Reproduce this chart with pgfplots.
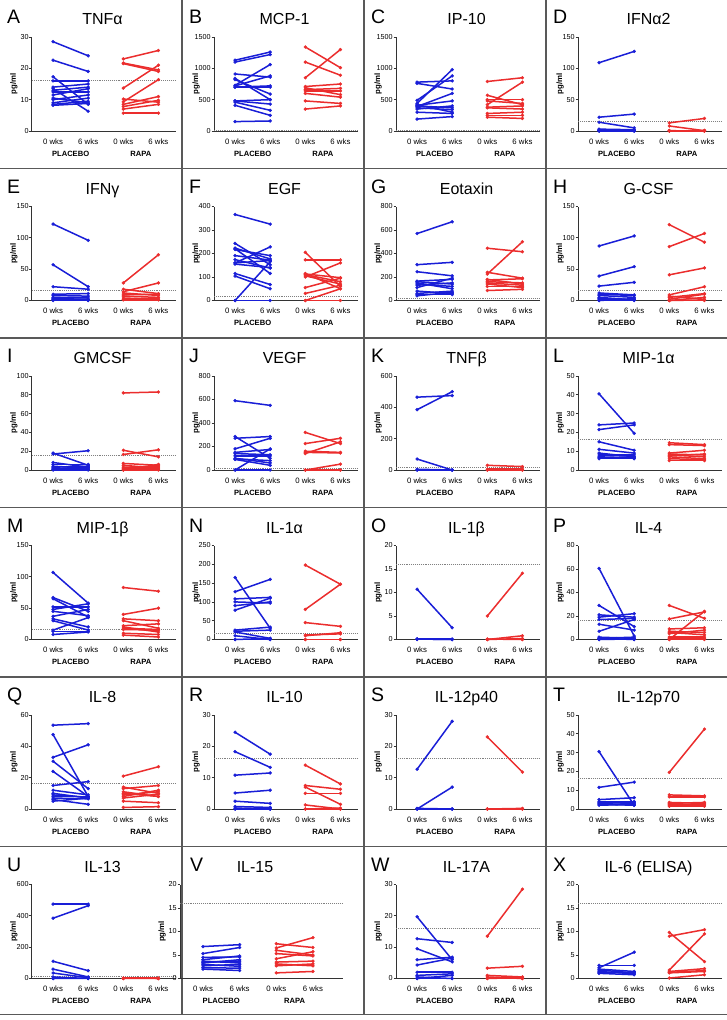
\documentclass[border=0pt]{standalone}
\usepackage{fontspec}
\setmainfont{Liberation Sans}
\usepackage{pgfplots}
\pgfplotsset{compat=1.18}
\definecolor{pblue}{RGB}{25,30,215}
\definecolor{rred}{RGB}{235,45,45}
\pgfplotsset{
  letterx/.initial=-25pt,
  titlex/.initial=0.49,
  cyto/.style={
    scale only axis, width=144pt, height=94pt,
    xmin=-0.6, xmax=3.5, ymin=0, clip=false,
    axis x line*=bottom, axis y line*=left,
    axis line style={line width=1pt, black!80},
    xtick={0,1,2,3}, xticklabels={0 wks,6 wks,0 wks,6 wks},
    xtick style={draw=none},
    ytick style={line width=0.8pt, black!80},
    major tick length=2.5pt, tick align=outside,
    x tick label style={font=\fontsize{7.8}{8}\selectfont, anchor=base, yshift=-10.5pt, inner sep=0pt},
    y tick label style={font=\fontsize{7.2}{7.5}\selectfont, inner sep=0.6pt},
    /pgf/number format/assume math mode=true,
    /pgf/number format/1000 sep={},
    scaled y ticks=false,
  },
  pl/.style={pblue, line width=1.5pt},
  ra/.style={rred, line width=1.5pt},
  plm/.style={pblue, only marks, mark=*, mark size=1.5pt},
  ram/.style={rred, only marks, mark=*, mark size=1.5pt},
}
\tikzset{hline/.style={black!50, densely dotted, line width=0.9pt}}
\newcommand\panel[9]{%
\begin{axis}[cyto, at={#1}, anchor=south west, ymax=#5, ytick distance=#6, #9]
\draw[hline] ({rel axis cs:0,0}|-{axis cs:0,16}) -- ({rel axis cs:1,0}|-{axis cs:0,16});
\addplot[pl, quiver={u=1,v=\thisrow{b}-\thisrow{a}}] table[row sep=\\, x expr=0, y=a] {#7};
\addplot[plm] table[row sep=\\, x expr=0, y=a] {#7};
\addplot[plm] table[row sep=\\, x expr=1, y=b] {#7};
\addplot[ra, quiver={u=1,v=\thisrow{b}-\thisrow{a}}] table[row sep=\\, x expr=2, y=a] {#8};
\addplot[ram] table[row sep=\\, x expr=2, y=a] {#8};
\addplot[ram] table[row sep=\\, x expr=3, y=b] {#8};
\node[font=\fontsize{19.5}{20}\selectfont, anchor=base west, inner sep=0pt] at ([shift={(\pgfkeysvalueof{/pgfplots/letterx},13.5pt)}]rel axis cs:0,1) {#3};
\node[font=\fontsize{16}{16}\selectfont, anchor=base, inner sep=0pt] at ([yshift=12.5pt]rel axis cs:\pgfkeysvalueof{/pgfplots/titlex},1) {#4};
\node[font=\bfseries\fontsize{7.8}{8}\selectfont, rotate=90, inner sep=0pt] at ([xshift=-18pt]rel axis cs:0,0.5) {pg/ml};
\node[font=\bfseries\fontsize{7.6}{8}\selectfont, anchor=base, inner sep=0pt] at ([yshift=-25pt]axis cs:0.5,0) {PLACEBO};
\node[font=\bfseries\fontsize{7.6}{8}\selectfont, anchor=base, inner sep=0pt] at ([yshift=-25pt]axis cs:2.5,0) {RAPA};
\end{axis}}
\begin{document}
\begin{tikzpicture}[x=1pt,y=1pt]
\useasboundingbox (0,0) rectangle (727,-1020);
% borders
\foreach \yy in {168.5,338,507.5,677,846.5,1014.5}{\draw[black!65, line width=1.3pt] (0,-\yy) -- (727,-\yy);}
\foreach \xx in {182,364,546}{\draw[black!65, line width=1.3pt] (\xx,0) -- (\xx,-1014.5);}
% Row 1
\panel{(32pt,-131pt)}{}{A}{TNFα}{30}{10}
{a b\\ 28.5 24\\ 22.6 19\\ 17.3 8.5\\ 16 16\\ 14 15\\ 13.5 6.3\\ 13 14\\ 12.5 12.5\\ 11.5 13.5\\ 10.5 9\\ 10 11.5\\ 9 10.5\\ 8.5 9.5\\ 8.2 8.8\\}
{a b\\ 23 25.7\\ 21.7 19.5\\ 21.5 19\\ 13.7 21\\ 10.2 9.2\\ 9.3 16.4\\ 8.5 11\\ 7.8 9.8\\ 7 8.5\\ 5.7 5.7\\}{}
\panel{(214pt,-131pt)}{}{B}{MCP-1}{1500}{500}
{a b\\ 1130 1260\\ 1100 1220\\ 910 860\\ 840 500\\ 820 590\\ 730 1060\\ 720 880\\ 700 720\\ 700 700\\ 480 430\\ 460 330\\ 410 250\\ 480 500\\ 150 160\\}
{a b\\ 1340 1010\\ 1100 890\\ 850 1300\\ 710 750\\ 690 580\\ 660 680\\ 640 640\\ 600 540\\ 480 440\\ 350 400\\}{}
\panel{(396pt,-131pt)}{}{C}{IP-10}{1500}{500}
{a b\\ 780 800\\ 760 670\\ 490 880\\ 440 980\\ 410 480\\ 390 600\\ 370 340\\ 350 400\\ 400 370\\ 300 280\\ 190 230\\ 420 300\\}
{a b\\ 790 850\\ 570 420\\ 500 500\\ 480 440\\ 420 780\\ 380 400\\ 370 350\\ 280 300\\ 250 250\\ 220 200\\}{}
\panel{(578pt,-131pt)}{}{D}{IFNα2}{150}{50}
{a b\\ 109 127\\ 22 27\\ 14 5\\ 3 2\\ 2 1\\ 1 1\\ 0.5 0.5\\ 0 0\\ 0 1\\ 1 0\\}
{a b\\ 13 20\\ 8 0.5\\ 1 1\\ 0.5 0\\ 0 0\\ 0 0.5\\ 0 0\\}{}
% Row 2
\panel{(32pt,-300.5pt)}{}{E}{IFNγ}{150}{50}
{a b\\ 122 96\\ 57 22\\ 22 18\\ 10 11\\ 8 7\\ 5 4\\ 3 2\\ 1 0.5\\ 0 0\\ 2 1\\}
{a b\\ 28 73\\ 18 11\\ 14 28\\ 12 8\\ 7 5\\ 4 2\\ 2 4\\ 1 1\\ 9 10\\}{}
\panel{(214pt,-300.5pt)}{}{F}{EGF}{400}{100}
{a b\\ 366 325\\ 243 152\\ 223 177\\ 217 191\\ 191 172\\ 174 138\\ 160 228\\ 115 68\\ 104 50\\ 0 165\\ 220 115\\ 155 140\\ 160 170\\ 0 0\\}
{a b\\ 205 60\\ 173 173\\ 113 97\\ 110 80\\ 105 70\\ 100 160\\ 55 95\\ 30 65\\ 0 50\\ 115 50\\ 0 0\\}{}
\panel{(396pt,-300.5pt)}{}{G}{Eotaxin}{800}{200}
{a b\\ 570 670\\ 305 325\\ 245 210\\ 165 180\\ 160 140\\ 150 100\\ 140 120\\ 110 190\\ 80 60\\ 60 80\\ 50 50\\ 40 70\\ 130 150\\}
{a b\\ 445 415\\ 240 190\\ 225 500\\ 175 185\\ 160 150\\ 150 130\\ 140 110\\ 120 120\\ 85 95\\ 180 140\\}{}
\panel{(578pt,-300.5pt)}{}{H}{G-CSF}{150}{50}
{a b\\ 87 103\\ 39 54\\ 23 29\\ 12 9\\ 10 8\\ 8 5\\ 5 1\\ 3 1\\ 1 1\\ 0 0\\ 0 3\\}
{a b\\ 121 93\\ 86 107\\ 41 52\\ 9 22\\ 5 11\\ 2 10\\ 0 5\\ 0 1\\ 0 0\\ 7 2\\}{}
% Row 3
\panel{(32pt,-470pt)}{}{I}{GMCSF}{100}{20}
{a b\\ 18 5\\ 17 20.5\\ 8 3\\ 6 6\\ 4 2\\ 3 4\\ 2 1\\ 1 3\\ 0 0\\ 0.5 1\\}
{a b\\ 82 83\\ 21 14\\ 16.5 21.5\\ 7 5\\ 5 2\\ 3 4\\ 2 3\\ 1 1\\ 0 6\\ 0 0\\}{}
\panel{(214pt,-470pt)}{}{J}{VEGF}{800}{200}
{a b\\ 590 550\\ 285 100\\ 270 285\\ 180 270\\ 150 175\\ 140 130\\ 120 120\\ 100 60\\ 95 80\\ 90 40\\ 0 180\\ 0 0\\}
{a b\\ 320 225\\ 225 270\\ 160 150\\ 150 145\\ 140 240\\ 0 50\\ 0 0\\ 0 0\\}{}
\panel{(396pt,-470pt)}{}{K}{TNFβ}{600}{200}
{a b\\ 465 475\\ 385 500\\ 70 0\\ 0 0\\ 0 0\\ 5 0\\}
{a b\\ 30 22\\ 5 5\\ 0 0\\ 0 0\\}{}
\panel{(578pt,-470pt)}{}{L}{MIP-1α}{50}{10}
{a b\\ 40.5 19.5\\ 24 25\\ 21.5 24\\ 15 10.5\\ 11 9\\ 9 7\\ 8 8\\ 7 6.5\\ 6.5 7\\ 6 6\\}
{a b\\ 14.5 13.5\\ 13.5 13\\ 9 10.5\\ 8.5 8\\ 8 7\\ 7 6\\ 6 5.5\\ 5 5\\ 7.5 8.5\\}{}
% Row 4
\panel{(32pt,-639.5pt)}{}{M}{MIP-1β}{150}{50}
{a b\\ 107 58\\ 67 45\\ 65 36\\ 52 52\\ 48 57\\ 45 38\\ 37 48\\ 33 20\\ 30 15\\ 15 35\\ 13 13\\ 8 12\\}
{a b\\ 83 77\\ 40 50\\ 33 30\\ 30 18\\ 22 25\\ 20 12\\ 18 16\\ 10 8\\ 7 4\\ 16 15\\}{}
\panel{(214pt,-639.5pt)}{}{N}{IL-1α}{250}{50}
{a b\\ 165 30\\ 127 160\\ 108 112\\ 100 97\\ 90 100\\ 78 110\\ 25 33\\ 22 25\\ 20 3\\ 10 0\\ 0 0\\ 0 3\\}
{a b\\ 198 147\\ 80 147\\ 45 35\\ 10 18\\ 12 15\\ 0 0\\ 0 0\\}{}
\panel{(396pt,-639.5pt)}{}{O}{IL-1β}{20}{5}
{a b\\ 10.7 2.5\\ 0.1 0\\ 0.1 0\\ 0 0\\ 0.1 0.1\\}
{a b\\ 5 14.1\\ 0 0.8\\ 0 0.2\\ 0 0\\ 0.1 0\\}{}
\panel{(578pt,-639.5pt)}{}{P}{IL-4}{80}{20}
{a b\\ 60.5 3\\ 29 11\\ 21 19\\ 19 22\\ 17 18\\ 13 8\\ 7 17\\ 2 1\\ 1 2\\ 0 0\\ 0 0.5\\ 1 0\\}
{a b\\ 29 18\\ 17.5 23.5\\ 9 10\\ 7 6\\ 6 4\\ 5 8\\ 2 2\\ 1 1\\ 0 24\\ 0 0\\}{}
% Row 5
\panel{(32pt,-809pt)}{}{Q}{IL-8}{60}{20}
{a b\\ 53.5 54.5\\ 47.5 8\\ 33 41\\ 30.5 13\\ 24 8\\ 15 17.5\\ 12 9\\ 10 7\\ 9 7.5\\ 8 8\\ 7 6.5\\ 6 3\\ 5 7\\}
{a b\\ 21 27\\ 14 10\\ 13 15\\ 10 8\\ 9 11\\ 8 12\\ 7 9.5\\ 5 4\\ 1 1.5\\ 11 8\\}{}
\panel{(214pt,-809pt)}{}{R}{IL-10}{30}{10}
{a b\\ 24.5 17.5\\ 18.3 13.3\\ 10.8 11.5\\ 5.1 6\\ 2.5 1.8\\ 0.8 0.5\\ 0 0\\ 0 0\\ 0.3 0\\}
{a b\\ 14 8\\ 7.5 6.3\\ 7 1.5\\ 5 5\\ 1.3 0\\ 0 0\\ 0 0.3\\}{}
\panel{(396pt,-809pt)}{}{S}{IL-12p40}{30}{10}
{a b\\ 12.7 28\\ 0 7\\ 0 0\\ 0 0\\ 0.2 0\\}
{a b\\ 23 11.8\\ 0 0\\ 0 0.2\\ 0 0\\}{}
\panel{(578pt,-809pt)}{}{T}{IL-12p70}{50}{10}
{a b\\ 30.5 2\\ 11.5 14.3\\ 5 6\\ 4 4\\ 3.5 3\\ 3 3.5\\ 2.5 2\\ 2 2.5\\}
{a b\\ 19.5 42.5\\ 7.5 7\\ 6.5 6.5\\ 3.5 3\\ 3 3.5\\ 2.5 2\\ 2 2.5\\ 1.5 1.5\\}{}
% Row 6
\panel{(32pt,-978.5pt)}{}{U}{IL-13}{600}{200}
{a b\\ 475 475\\ 385 465\\ 110 50\\ 60 10\\ 35 5\\ 10 0\\ 0 0\\ 0 2\\}
{a b\\ 0 0\\ 2 2\\ 0 0\\ 1 0\\}{}
\panel{(180pt,-978.5pt)}{}{V}{IL-15}{20}{5}
{a b\\ 6.8 7.2\\ 5.3 6.6\\ 4.5 4.6\\ 4 4.8\\ 3.7 3.3\\ 3.3 4\\ 3 2.6\\ 2.7 3\\ 2.3 2.2\\ 2 1.7\\ 3.5 3.7\\}
{a b\\ 7.4 6.6\\ 6.5 8.7\\ 5.3 4.8\\ 4.2 5.7\\ 3.5 3.7\\ 3.1 2.7\\ 2.7 3.1\\ 1.2 1.5\\ 6 5\\}
{width=163pt, xmin=-0.627, xmax=3.82, letterx=10pt, titlex=0.46}
\panel{(396pt,-978.5pt)}{}{W}{IL-17A}{30}{10}
{a b\\ 19.7 6\\ 12.7 11.5\\ 9.5 5.3\\ 6 6.8\\ 4.3 6.5\\ 2 2\\ 1 1.5\\ 0.5 0\\ 0 1\\ 0 0\\}
{a b\\ 13.5 28.5\\ 3.3 3.9\\ 1 0.5\\ 0.5 0\\ 0 0.3\\ 0 0\\}{}
\panel{(578pt,-978.5pt)}{}{X}{IL-6 (ELISA)}{20}{5}
{a b\\ 2.8 2.8\\ 2.3 5.6\\ 2 1.5\\ 1.8 1.2\\ 1.5 1\\ 1.3 1.3\\ 1.1 0.8\\}
{a b\\ 9.8 3.6\\ 9 10.4\\ 1.8 9.5\\ 1.5 2.1\\ 1.3 1.7\\ 0.1 0.8\\ 1.2 1.5\\}{}
\end{tikzpicture}
\end{document}
